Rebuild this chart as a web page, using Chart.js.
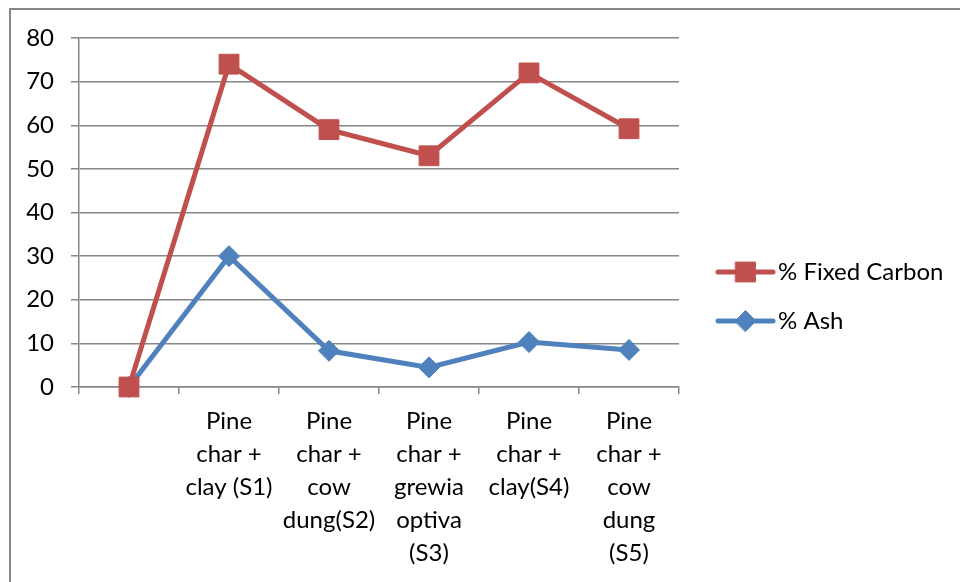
<!DOCTYPE html>
<html>
<head>
<meta charset="utf-8">
<script src="https://cdn.jsdelivr.net/npm/chart.js@4"></script>
<style>
  html, body { margin: 0; padding: 0; background: #fff; }
  #wrap { width: 960px; height: 582px; position: relative; }
</style>
</head>
<body>
<div id="wrap"><canvas id="c" width="960" height="582"></canvas></div>
<script>
// Sample categories (first slot is an unlabeled baseline)
const categories = [
  "",
  ["Pine", "char +", "clay (S1)"],
  ["Pine", "char +", "cow", "dung(S2)"],
  ["Pine", "char +", "grewia", "optiva", "(S3)"],
  ["Pine", "char +", "clay(S4)"],
  ["Pine", "char +", "cow", "dung", "(S5)"]
];

// Proximate analysis results (%)
const fixedCarbon = [0, 74, 59, 53, 72, 59.2];
const ash = [0, 30, 8.3, 4.5, 10.3, 8.5];

const seriesNames = ["% Fixed Carbon", "% Ash"];

// Value axis range
const yMin = 0;
const yMax = 80;
const yStep = 10;

const RED = "#C0504D";
const BLUE = "#4F81BD";
const GRID = "#868686";
const FONT = "Lato, 'Open Sans', sans-serif";
const FONT_SIZE = 24;

// Outer frame of the chart
const framePlugin = {
  id: "frame",
  beforeDraw(chart) {
    const ctx = chart.ctx;
    ctx.save();
    ctx.fillStyle = "#fff";
    ctx.fillRect(0, 0, chart.width, chart.height);
    ctx.strokeStyle = GRID;
    ctx.lineWidth = 2;
    ctx.beginPath();
    ctx.moveTo(10, chart.height + 5);
    ctx.lineTo(10, 9);
    ctx.lineTo(chart.width + 5, 9);
    ctx.stroke();
    ctx.restore();
  }
};

// Legend on the right with line + marker samples
const sideLegend = {
  id: "sideLegend",
  afterDraw(chart) {
    const ctx = chart.ctx;
    const x0 = 718, x1 = 773, tx = 778;
    const rows = [272, 321];
    ctx.save();
    chart.data.datasets.forEach((ds, i) => {
      const y = rows[i];
      ctx.strokeStyle = ds.borderColor;
      ctx.lineWidth = ds.borderWidth;
      ctx.lineCap = "round";
      ctx.beginPath();
      ctx.moveTo(x0, y);
      ctx.lineTo(x1, y);
      ctx.stroke();
      ctx.fillStyle = ds.pointBackgroundColor;
      ctx.strokeStyle = ds.pointBorderColor;
      ctx.lineWidth = ds.pointBorderWidth;
      Chart.helpers.drawPoint(ctx, {
        pointStyle: ds.pointStyle,
        radius: ds.pointRadius,
        rotation: 0,
        borderWidth: ds.pointBorderWidth
      }, (x0 + x1) / 2, y);
      ctx.fillStyle = "#000";
      ctx.font = FONT_SIZE + "px " + FONT;
      ctx.textBaseline = "middle";
      ctx.textAlign = "left";
      ctx.fillText(ds.label, tx, y);
    });
    ctx.restore();
  }
};

const chart = new Chart(document.getElementById("c"), {
  type: "line",
  data: {
    labels: categories,
    datasets: [
      {
        label: seriesNames[0],
        data: fixedCarbon,
        order: 0,
        borderColor: RED,
        backgroundColor: RED,
        pointBackgroundColor: RED,
        pointBorderColor: RED,
        borderWidth: 5,
        pointStyle: "rect",
        pointRadius: 14,
        pointBorderWidth: 1,
        clip: false,
        tension: 0
      },
      {
        label: seriesNames[1],
        data: ash,
        order: 1,
        borderColor: BLUE,
        backgroundColor: BLUE,
        pointBackgroundColor: BLUE,
        pointBorderColor: BLUE,
        borderWidth: 5,
        pointStyle: "rectRot",
        pointRadius: 10.5,
        pointBorderWidth: 1,
        clip: false,
        tension: 0
      }
    ]
  },
  options: {
    responsive: false,
    animation: false,
    devicePixelRatio: 1,
    layout: { padding: { left: 0, top: 38, right: 281, bottom: 0 } },
    plugins: {
      legend: { display: false },
      tooltip: { enabled: false }
    },
    scales: {
      x: {
        type: "category",
        offset: true,
        grid: {
          offset: true,
          drawOnChartArea: false,
          drawTicks: true,
          tickLength: 7,
          color: GRID,
          lineWidth: 1.5
        },
        border: { display: true, color: GRID, width: 1.5 },
        ticks: {
          autoSkip: false,
          maxRotation: 0,
          minRotation: 0,
          padding: 11,
          color: "#000",
          font: { family: FONT, size: FONT_SIZE, lineHeight: 1.375 }
        },
        afterFit(scale) { scale.height = 195; }
      },
      y: {
        min: yMin,
        max: yMax,
        grid: {
          color: GRID,
          lineWidth: 1.5,
          drawTicks: true,
          tickLength: 8
        },
        border: { display: true, color: GRID, width: 1.5 },
        ticks: {
          stepSize: yStep,
          padding: 17,
          color: "#000",
          font: { family: FONT, size: FONT_SIZE }
        },
        afterFit(scale) { scale.width = 79; }
      }
    }
  },
  plugins: [framePlugin, sideLegend]
});
</script>
</body>
</html>
